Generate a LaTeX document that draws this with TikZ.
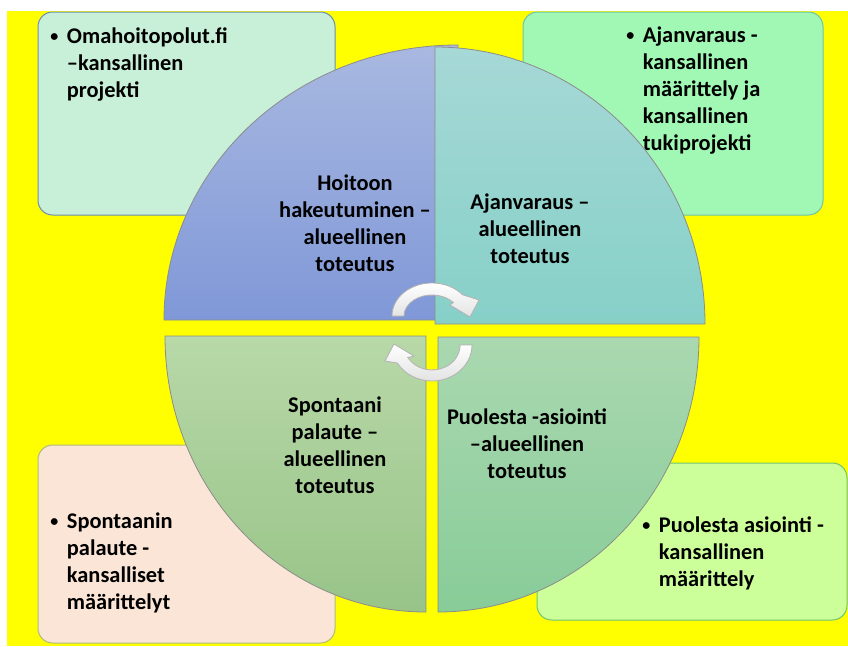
\documentclass[tikz,border=0pt]{standalone}
\usepackage{fontspec}
\setmainfont{Carlito}
\usepackage{xcolor}
\usepackage{tikz}
\usetikzlibrary{positioning}

\definecolor{bgyellow}{RGB}{255,255,0}
\definecolor{tlfill}{RGB}{200,240,216}
\definecolor{tlborder}{RGB}{108,142,174}
\definecolor{trfill}{RGB}{161,248,180}
\definecolor{trborder}{RGB}{110,196,166}
\definecolor{blfill}{RGB}{251,229,214}
\definecolor{blborder}{RGB}{176,186,120}
\definecolor{brfill}{RGB}{204,255,153}
\definecolor{brborder}{RGB}{112,196,112}
\definecolor{hoitotop}{RGB}{168,184,224}
\definecolor{hoitobot}{RGB}{128,152,216}
\definecolor{ajantop}{RGB}{166,216,214}
\definecolor{ajanbot}{RGB}{134,208,200}
\definecolor{spontop}{RGB}{184,216,168}
\definecolor{sponbot}{RGB}{152,196,136}
\definecolor{puoltop}{RGB}{170,216,176}
\definecolor{puolbot}{RGB}{136,204,152}

\newcommand{\bulletlines}[1]{\makebox[12.5pt][l]{\raisebox{1.2pt}{\fontsize{12}{12}\selectfont\textbullet}}\begin{tabular}[t]{@{}l@{}}#1\end{tabular}}

\begin{document}
\begin{tikzpicture}[
    x=0.75pt, y=0.75pt,
    every node/.style={font=\fontsize{16.8}{20.25}\selectfont\bfseries, inner sep=0pt},
    box/.style={rounded corners=11pt, line width=0.75pt},
    quarter/.style={draw=black!45, line width=0.6pt},
    circletext/.style={align=center},
    bullettext/.style={anchor=base west},
    turn/.style={draw=gray!60, line width=0.6pt, top color=white, bottom color=gray!22},
]
\useasboundingbox (0,0) rectangle (848,-646);

% =====================================================================
% Background
% =====================================================================
\fill[bgyellow] (7,-11) rectangle (848,-646);

% =====================================================================
% Corner boxes (national projects)
% =====================================================================
\draw[box, draw=tlborder, fill=tlfill] (38,-12) rectangle (335,-215);
\draw[box, draw=trborder, fill=trfill] (523,-12) rectangle (823,-215);
\draw[box, draw=blborder, fill=blfill] (38,-445) rectangle (335,-643);
\draw[box, draw=brborder, fill=brfill] (537,-463) rectangle (847,-620);

\node[bullettext] (omahoito) at (50,-43) {\bulletlines{Omahoitopolut.fi\\–kansallinen\\projekti}};
\node[bullettext] (ajanvarausk) at (626,-42) {\bulletlines{Ajanvaraus -\\kansallinen\\määrittely ja\\kansallinen\\tukiprojekti}};
\node[bullettext] (spontaanik) at (50,-528) {\bulletlines{Spontaanin\\palaute -\\kansalliset\\määrittelyt}};
\node[bullettext] (puolestak) at (642,-532) {\bulletlines{Puolesta asiointi -\\kansallinen\\määrittely}};

% =====================================================================
% Circle quarters (regional implementation)
% =====================================================================
\draw[quarter, top color=hoitotop, bottom color=hoitobot]
    (458,-320) -- (164,-320) arc[start angle=180, end angle=90, x radius=294, y radius=275] -- cycle;
\draw[quarter, top color=ajantop, bottom color=ajanbot]
    (435,-324) -- (435,-47) arc[start angle=90, end angle=0, x radius=270, y radius=277] -- cycle;
\draw[quarter, top color=spontop, bottom color=sponbot]
    (426,-336) -- (165,-336) arc[start angle=180, end angle=270, x radius=261, y radius=276] -- cycle;
\draw[quarter, top color=puoltop, bottom color=puolbot]
    (438,-337) -- (438,-612) arc[start angle=270, end angle=360, x radius=261, y radius=275] -- cycle;

\node[circletext] (hoitoon) at (355,-223) {Hoitoon\\hakeutuminen –\\alueellinen\\toteutus};
\node[circletext] (ajanvaraus) at (530,-229) {Ajanvaraus –\\alueellinen\\toteutus};
\node[circletext] (spontaani) at (335,-445) {Spontaani\\palaute –\\alueellinen\\toteutus};
\node[circletext] (puolesta) at (527,-444) {Puolesta -asiointi\\–alueellinen\\toteutus};

% =====================================================================
% Circular arrows in the middle
% =====================================================================
\draw[turn] (392,-316) arc[start angle=180, end angle=40, x radius=40, y radius=33]
    -- (479,-300) -- (470,-317) -- (450,-305) -- (453.4,-302.5)
    arc[start angle=40, end angle=180, x radius=28, y radius=21] -- cycle;
\draw[turn] (472,-345) arc[start angle=0, end angle=-150, x radius=40, y radius=36]
    -- (385,-361) -- (394,-344) -- (414,-356) -- (407.8,-357.5)
    arc[start angle=-150, end angle=0, x radius=28, y radius=25] -- cycle;

\end{tikzpicture}
\end{document}
